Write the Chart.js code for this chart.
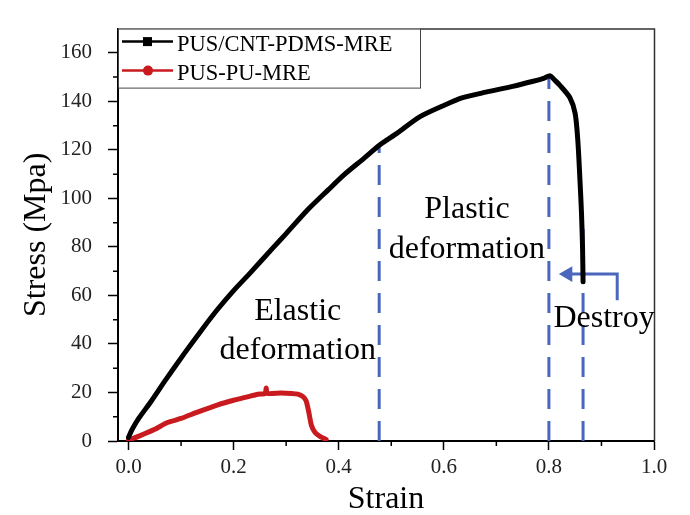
<!DOCTYPE html>
<html>
<head>
<meta charset="utf-8">
<script src="https://cdn.jsdelivr.net/npm/chart.js@4.4.1/dist/chart.umd.min.js"></script>
<style>
  html, body { margin: 0; padding: 0; background: #fff; }
  #wrap { width: 690px; height: 515px; position: relative; }
</style>
</head>
<body>
<div id="wrap"><canvas id="stressChart"></canvas></div>
<script>
// 数据
const strainCNT = [0, 0.005, 0.01, 0.02, 0.0425, 0.07, 0.106, 0.14, 0.17, 0.2, 0.233, 0.274, 0.3, 0.341, 0.38, 0.41, 0.448, 0.478, 0.512, 0.554, 0.6, 0.636, 0.68, 0.731, 0.77, 0.79, 0.802, 0.81, 0.821, 0.84, 0.85, 0.855, 0.859, 0.862, 0.864, 0.865];
const stressCNT = [1.5, 4, 6, 9.5, 16.2, 25, 36, 46, 54.4, 62, 69.6, 79.4, 85.5, 95.3, 103.5, 109.7, 116.5, 122, 127, 133.6, 138.3, 141.5, 143.8, 146.2, 148.3, 149.5, 150.6, 149, 146.6, 141.5, 135, 124, 108, 94, 80, 65.6];

const strainPU = [0, 0.01, 0.02, 0.05, 0.074, 0.1, 0.13, 0.17, 0.2, 0.23, 0.246, 0.26, 0.262, 0.264, 0.29, 0.31, 0.322, 0.332, 0.338, 0.343, 0.348, 0.355, 0.365, 0.376];
const stressPU = [0.5, 1.2, 2, 4.8, 7.6, 9.3, 11.8, 14.9, 16.8, 18.4, 19.3, 19.6, 21.8, 19.6, 19.8, 19.6, 19.3, 18.3, 16.5, 12, 6.5, 3.5, 1.8, 0.6];

const seriesNames = ['PUS/CNT-PDMS-MRE', 'PUS-PU-MRE'];

// 阶段分界虚线
const boundaryX = [0.477, 0.8, 0.865];
const boundaryTop = [122, 150, 91];

// Destroy 箭头
const arrowX = [0.93, 0.93, 0.836];
const arrowY = [58, 68.8, 68.8];

// 刻度
const xTicks = [0, 0.2, 0.4, 0.6, 0.8, 1.0];
const xMinor = [0.1, 0.3, 0.5, 0.7, 0.9];
const yTicks = [0, 20, 40, 60, 80, 100, 120, 140, 160];
const yMinor = [10, 30, 50, 70, 90, 110, 130, 150];

// 注释文字 (数据坐标, 每行基线)
const notes = [
  { text: 'Elastic', x: 0.322, y: 49.8 },
  { text: 'deformation', x: 0.322, y: 34 },
  { text: 'Plastic', x: 0.644, y: 92 },
  { text: 'deformation', x: 0.644, y: 75.5 },
  { text: 'Destroy', x: 0.905, y: 47 }
];

const SERIF = "'Liberation Serif', 'Times New Roman', serif";
const BLUE = '#4a67bd';
const RED = '#c81a1f';

const zip = (xs, ys) => xs.map((x, i) => ({ x: x, y: ys[i] }));

const datasets = [
  { label: seriesNames[0], data: zip(strainCNT, stressCNT), borderColor: '#000', backgroundColor: '#000', borderWidth: 5, borderJoinStyle: 'round', borderCapStyle: 'round', pointRadius: 0, showLine: true, tension: 0.25 },
  { label: seriesNames[1], data: zip(strainPU, stressPU), borderColor: RED, backgroundColor: RED, borderWidth: 5, borderJoinStyle: 'round', borderCapStyle: 'round', pointRadius: 0, showLine: true, tension: 0.2 }
];
boundaryX.forEach((bx, i) => {
  datasets.push({ label: '', data: [{ x: bx, y: 0 }, { x: bx, y: boundaryTop[i] }], borderColor: BLUE, borderWidth: 3, borderDash: [20, 12], pointRadius: 0, showLine: true });
});
datasets.push({
  label: '', data: zip(arrowX, arrowY), borderColor: BLUE, borderWidth: 3, showLine: true,
  pointRadius: [0, 0, 9], pointStyle: 'triangle', pointRotation: -90,
  pointBackgroundColor: BLUE, pointBorderWidth: 0
});

// 次刻度, 边框, 图例, 注释
const extras = {
  id: 'extras',
  afterDraw(chart) {
    const ctx = chart.ctx;
    const xs = chart.scales.x, ys = chart.scales.y;
    const a = chart.chartArea;
    ctx.save();
    ctx.strokeStyle = '#000';
    ctx.lineWidth = 1.5;
    ctx.beginPath();
    xMinor.forEach(v => { const p = xs.getPixelForValue(v); ctx.moveTo(p, a.bottom); ctx.lineTo(p, a.bottom + 5); });
    yMinor.forEach(v => { const p = ys.getPixelForValue(v); ctx.moveTo(a.left, p); ctx.lineTo(a.left - 5, p); });
    ctx.stroke();

    // 上、右边框
    ctx.strokeStyle = '#333';
    ctx.beginPath();
    ctx.moveTo(a.left, a.top + 0.5); ctx.lineTo(a.right + 0.5, a.top + 0.5); ctx.lineTo(a.right + 0.5, a.bottom);
    ctx.stroke();

    // 图例
    const lx = a.left, ly = a.top;
    ctx.fillStyle = '#fff';
    ctx.fillRect(lx, ly, 302, 59);
    ctx.strokeStyle = '#444';
    ctx.lineWidth = 1;
    ctx.strokeRect(lx + 0.5, ly + 0.5, 302, 59);
    ctx.font = '22.5px ' + SERIF;
    ctx.textBaseline = 'alphabetic';
    ctx.textAlign = 'left';
    [0, 1].forEach(i => {
      const ds = chart.data.datasets[i];
      const rowY = ly + 13 + i * 29;
      ctx.strokeStyle = ds.borderColor;
      ctx.lineWidth = 2.5;
      ctx.beginPath(); ctx.moveTo(lx + 4, rowY); ctx.lineTo(lx + 55, rowY); ctx.stroke();
      ctx.fillStyle = ds.borderColor;
      if (i === 0) {
        ctx.fillRect(lx + 25, rowY - 4.5, 9, 9);
      } else {
        ctx.beginPath(); ctx.arc(lx + 30, rowY, 5, 0, Math.PI * 2); ctx.fill();
      }
      ctx.fillStyle = '#000';
      ctx.fillText(ds.label, lx + 59, rowY + 9);
    });

    // 注释
    ctx.font = '32px ' + SERIF;
    ctx.textAlign = 'center';
    ctx.fillStyle = '#000';
    notes.forEach(n => ctx.fillText(n.text, xs.getPixelForValue(n.x), ys.getPixelForValue(n.y)));
    ctx.restore();
  }
};

new Chart(document.getElementById('stressChart'), {
  type: 'scatter',
  data: { datasets: datasets },
  options: {
    responsive: true,
    maintainAspectRatio: false,
    animation: false,
    layout: { padding: { top: 11, right: 36, left: 0, bottom: 0 } },
    plugins: { legend: { display: false }, tooltip: { enabled: false } },
    scales: {
      x: {
        type: 'linear', min: -0.02, max: 1.0,
        afterBuildTicks: s => { s.ticks = xTicks.map(v => ({ value: v })); },
        afterFit: s => { s.height = 74; },
        ticks: { callback: v => v.toFixed(1), color: '#222', padding: 5, maxRotation: 0, font: { family: SERIF, size: 21 } },
        grid: { drawOnChartArea: false, drawTicks: true, tickLength: 9, tickWidth: 1.5, tickColor: '#000' },
        border: { display: true, color: '#000', width: 2 },
        title: { display: true, text: 'Strain', color: '#000', font: { family: SERIF, size: 32, lineHeight: 0.94 }, padding: { top: 0, bottom: 0 } }
      },
      y: {
        type: 'linear', min: 0, max: 170,
        afterBuildTicks: s => { s.ticks = yTicks.map(v => ({ value: v })); },
        afterFit: s => { s.width = 118; },
        ticks: { callback: v => String(v), color: '#222', padding: 16, font: { family: SERIF, size: 21 } },
        grid: { drawOnChartArea: false, drawTicks: true, tickLength: 10, tickWidth: 1.5, tickColor: '#000' },
        border: { display: true, color: '#000', width: 2 },
        title: { display: true, text: 'Stress (Mpa)', color: '#000', font: { family: SERIF, size: 32, lineHeight: 1.2 }, padding: { top: 17, bottom: 0 } }
      }
    }
  },
  plugins: [extras]
});
</script>
</body>
</html>
